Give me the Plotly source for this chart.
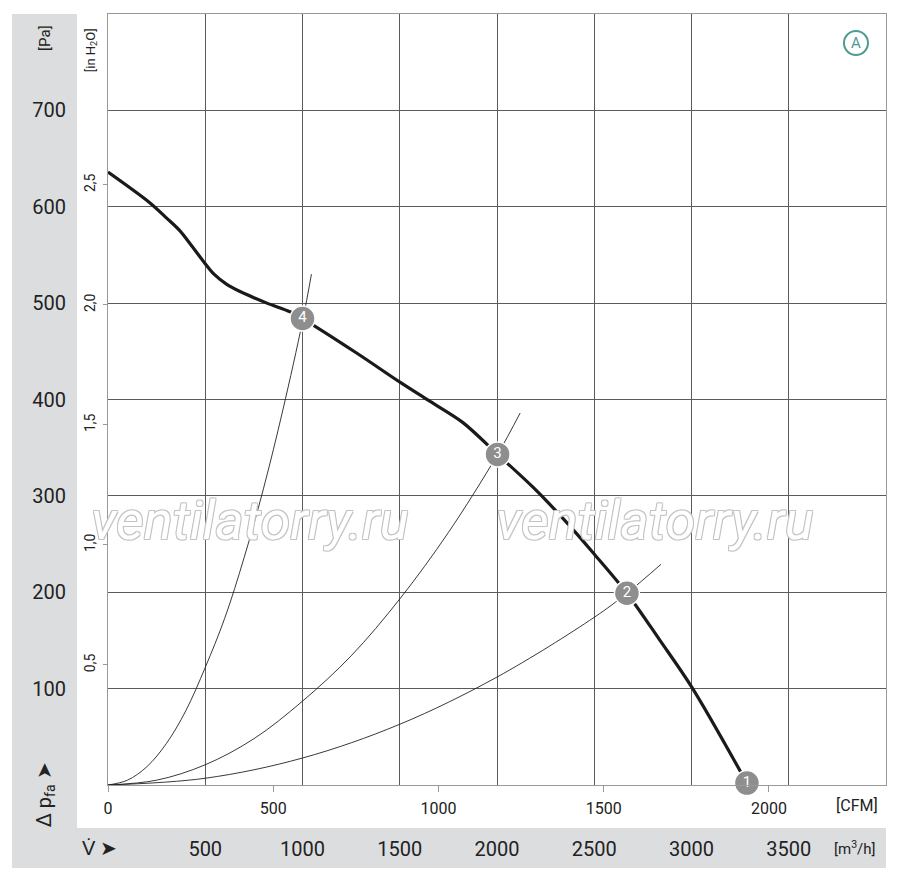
import plotly.graph_objects as go

# fan curve (m3/h, Pa)
fan_flow = [0, 216, 303, 370, 432, 488, 545, 607, 679, 817, 936, 1000, 1280, 1501,
            1656, 1825, 2003, 2185, 2360, 2494, 2668, 2838, 3003, 3285]
fan_pa = [636, 604, 588, 575, 559, 544, 530, 520, 512, 500, 491, 484, 448, 418,
          398, 376, 343, 309, 272, 241, 199, 150, 101, 2]

# system resistance curves
sys4_flow = [0, 100, 200, 300, 400, 500, 600, 700, 800, 900, 1000, 1046]
sys4_pa = [0, 5, 19, 43, 77, 122, 173, 236, 308, 390, 481, 530]
sys3_flow = [0, 250, 500, 750, 1000, 1250, 1500, 1750, 2000, 2119]
sys3_pa = [0, 5, 21, 48, 87, 134, 193, 262, 342, 386]
sys2_flow = [0, 500, 1000, 1500, 2000, 2500, 2668, 2843]
sys2_pa = [0, 7, 28, 63, 112, 174, 199, 229]

# operating points
op_labels = ["1", "2", "3", "4"]
op_flow = [3285, 2668, 2003, 1000]
op_pa = [2, 199, 343, 484]

# axes
flow_ticks = [500, 1000, 1500, 2000, 2500, 3000, 3500]
cfm_ticks = [0, 500, 1000, 1500, 2000]
pa_ticks = [100, 200, 300, 400, 500, 600, 700]
inh2o_ticks = [0.5, 1.0, 1.5, 2.0, 2.5]
inh2o_text = ["0,5", "1,0", "1,5", "2,0", "2,5"]

FLOW_MAX = 4000
PA_MAX = 800
CFM_PER_M3H = 1 / 1.699
PA_PER_INH2O = 249.089

FONT = "Roboto, Liberation Sans, sans-serif"
GRID = "#5a5a5a"
BAND = "#dcdddf"
WM_SHADOW = "1px 1px 0 #c4c4c4, -1px -1px 0 #c4c4c4, 1px -1px 0 #c4c4c4, -1px 1px 0 #c4c4c4"

fig = go.Figure()

for fx, fy in [(sys4_flow, sys4_pa), (sys3_flow, sys3_pa), (sys2_flow, sys2_pa)]:
    fig.add_scatter(x=fx, y=fy, mode="lines", line=dict(color="#222", width=0.9, shape="spline"),
                    hoverinfo="skip", showlegend=False)

fig.add_scatter(x=fan_flow, y=fan_pa, mode="lines",
                line=dict(color="#1a1a1a", width=3.2, shape="spline", smoothing=0.9),
                showlegend=False)

fig.add_scatter(x=op_flow, y=op_pa, mode="markers+text", text=op_labels,
                textposition="middle center",
                textfont=dict(color="white", size=15, family=FONT),
                marker=dict(size=25, color="#8e8e8e", line=dict(color="white", width=1.5)),
                cliponaxis=False, showlegend=False)

# dummy traces to bring the secondary axes to life
fig.add_scatter(x=[0], y=[0], xaxis="x2", yaxis="y", mode="markers",
                marker=dict(opacity=0), hoverinfo="skip", showlegend=False)
fig.add_scatter(x=[0], y=[0], xaxis="x", yaxis="y2", mode="markers",
                marker=dict(opacity=0), hoverinfo="skip", showlegend=False)


def note(text, x, y, size, angle=0, color="#222"):
    return dict(text=text, x=x, y=y, xref="paper", yref="paper", textangle=angle,
                xanchor="center", yanchor="middle", showarrow=False,
                font=dict(size=size, color=color))


annotations = [
    note("[Pa]", -0.081, 0.969, 15, -90),
    note("[in H<sub>2</sub>O]", -0.0219, 0.953, 13, -90),
    note("Δ p<sub>fa</sub> ➤", -0.081, -0.012, 20, -90),
    note("V\u0307 ➤", -0.0103, -0.0817, 20),
    note("[CFM]", 0.9627, -0.026, 16),
    note("[m<sup>3</sup>/h]", 0.960, -0.082, 15),
    note("A", 0.9614, 0.9624, 15, 0, "#4e9a94"),
]
for wx in [0.1825, 0.703]:
    wm = note("<i>ventilatorry.ru</i>", wx, 0.3437, 54, 0, "white")
    wm["font"]["shadow"] = WM_SHADOW
    annotations.append(wm)

fig.update_layout(
    width=900, height=883,
    margin=dict(l=108, r=14, t=14, b=98),
    paper_bgcolor="white", plot_bgcolor="white",
    font=dict(family=FONT, color="#222"),
    xaxis=dict(range=[0, FLOW_MAX], tickvals=flow_ticks, showgrid=True, gridcolor=GRID,
               gridwidth=1, zeroline=False, showline=True, linecolor="#999", mirror=True,
               ticks="", ticklabelstandoff=46, automargin=False,
               tickfont=dict(size=20, color="#222")),
    xaxis2=dict(range=[0, FLOW_MAX * CFM_PER_M3H], overlaying="x", side="bottom",
                tickvals=cfm_ticks, showgrid=False, zeroline=False, ticks="outside",
                ticklen=6, tickcolor="#999", ticklabelstandoff=3, automargin=False,
                tickfont=dict(size=16, color="#222")),
    yaxis=dict(range=[0, PA_MAX], tickvals=pa_ticks, showgrid=True, gridcolor=GRID,
               gridwidth=1, zeroline=False, showline=True, linecolor="#999", mirror=True,
               ticks="", ticklabelstandoff=37, automargin=False,
               tickfont=dict(size=20, color="#222")),
    yaxis2=dict(range=[0, PA_MAX / PA_PER_INH2O], overlaying="y", side="left",
                tickvals=inh2o_ticks, ticktext=inh2o_text, showgrid=False, zeroline=False,
                ticks="outside", ticklen=4, tickcolor="#999", tickangle=-90,
                ticklabelstandoff=2, automargin=False, tickfont=dict(size=14, color="#222")),
    shapes=[
        dict(type="rect", xref="paper", yref="paper", x0=-0.1234, x1=-0.0398, y0=-0.1077, y1=1.0,
             fillcolor=BAND, line=dict(width=0), layer="below"),
        dict(type="rect", xref="paper", yref="paper", x0=-0.1234, x1=1.0, y0=-0.1077, y1=-0.0558,
             fillcolor=BAND, line=dict(width=0), layer="below"),
        dict(type="circle", xref="paper", yref="paper", xsizemode="pixel", ysizemode="pixel",
             xanchor=0.9614, yanchor=0.9624, x0=-12, x1=12, y0=-12, y1=12,
             line=dict(color="#4e9a94", width=2)),
    ],
    annotations=annotations,
)

fig.write_html("out.html", config={"displayModeBar": False},
               post_script="document.body.style.margin='0';")
